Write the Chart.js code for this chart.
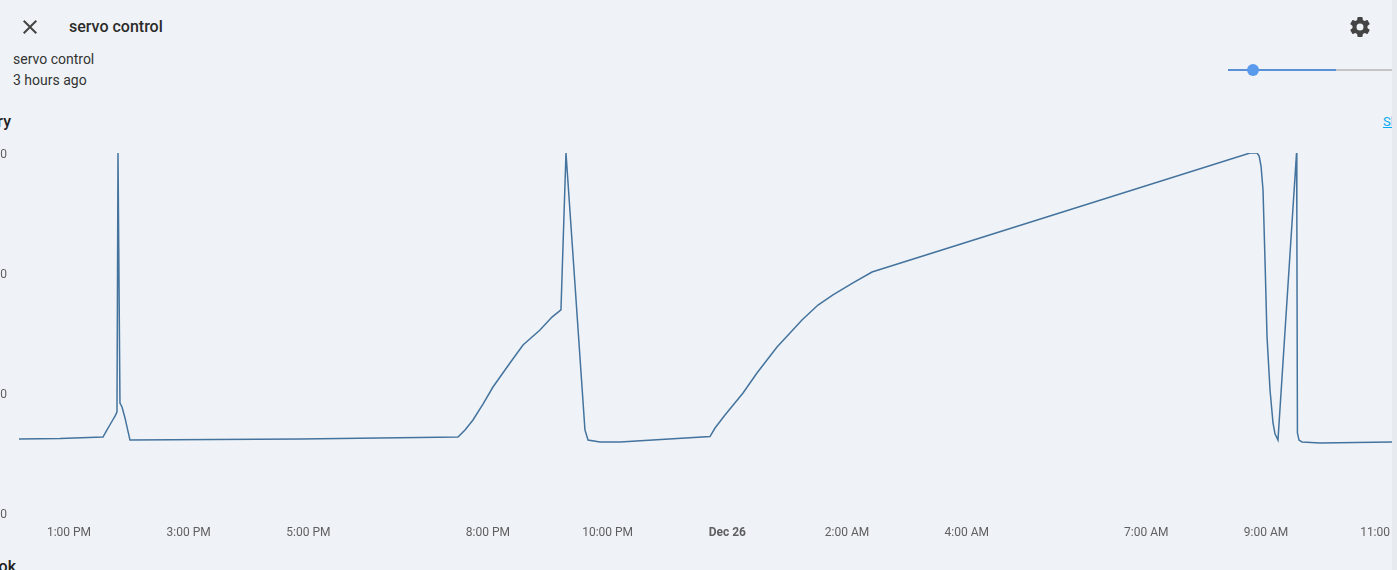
<!DOCTYPE html>
<html>
<head>
<meta charset="utf-8">
<script src="https://cdn.jsdelivr.net/npm/chart.js@4"></script>
<style>
  html, body { margin: 0; padding: 0; }
  body {
    width: 1397px; height: 570px; overflow: hidden; position: relative;
    background: #eff3f7; font-family: Roboto, "Noto Sans", sans-serif; color: #212121;
  }
  .abs { position: absolute; white-space: nowrap; }
  #chartBox { position: absolute; left: -30px; top: 130px; width: 1460px; height: 410px; }
  .strip { position: absolute; left: 1392px; top: 0; width: 5px; height: 570px; background: #e7ebef; }
</style>
</head>
<body>
<svg class="abs" style="left:18px;top:15px" width="24" height="24" viewBox="0 0 24 24">
  <path fill="#444" d="M19,6.41L17.59,5L12,10.59L6.41,5L5,6.41L10.59,12L5,17.59L6.41,19L12,13.41L17.59,19L19,17.59L13.41,12L19,6.41Z"/>
</svg>
<div class="abs" style="left:69px;top:17px;font-size:16px;line-height:20px;font-weight:500;color:#2b2b2b">servo control</div>
<svg class="abs" style="left:1348px;top:15px" width="24" height="24" viewBox="0 0 24 24">
  <path fill="#444" d="M12,15.5A3.5,3.5 0 0,1 8.5,12A3.5,3.5 0 0,1 12,8.5A3.5,3.5 0 0,1 15.5,12A3.5,3.5 0 0,1 12,15.5M19.43,12.97C19.47,12.65 19.5,12.33 19.5,12C19.5,11.67 19.47,11.34 19.43,11L21.54,9.37C21.73,9.22 21.78,8.95 21.66,8.73L19.66,5.27C19.54,5.05 19.27,4.96 19.05,5.05L16.56,6.05C16.04,5.66 15.5,5.32 14.87,5.07L14.5,2.42C14.46,2.18 14.25,2 14,2H10C9.75,2 9.54,2.18 9.5,2.42L9.130,5.07C8.5,5.32 7.960,5.66 7.440,6.05L4.95,5.05C4.73,4.96 4.46,5.05 4.34,5.27L2.34,8.73C2.21,8.95 2.27,9.22 2.46,9.37L4.57,11C4.53,11.34 4.5,11.67 4.5,12C4.5,12.33 4.53,12.65 4.57,12.970L2.46,14.63C2.27,14.78 2.21,15.05 2.34,15.27L4.34,18.73C4.46,18.95 4.73,19.03 4.95,18.95L7.44,17.94C7.96,18.34 8.5,18.68 9.13,18.93L9.5,21.58C9.54,21.82 9.75,22 10,22H14C14.25,22 14.46,21.82 14.5,21.58L14.87,18.93C15.5,18.67 16.04,18.34 16.56,17.94L19.05,18.95C19.27,19.03 19.54,18.95 19.66,18.73L21.66,15.27C21.78,15.050 21.73,14.78 21.54,14.63L19.43,12.97Z"/>
</svg>
<div class="abs" style="left:13px;top:49px;font-size:14px;line-height:20px;color:#333">servo control</div>
<div class="abs" style="left:13px;top:70px;font-size:14px;line-height:20px;color:#333">3 hours ago</div>

<!-- slider -->
<div class="abs" style="left:1228px;top:69px;width:108px;height:2px;background:#5b8fd6"></div>
<div class="abs" style="left:1336px;top:69px;width:56px;height:2px;background:#c4c4c4"></div>
<div class="abs" style="left:1247px;top:64px;width:12px;height:12px;border-radius:6px;background:#5a9aec"></div>

<div class="abs" style="left:-100px;top:112px;width:111px;text-align:right;font-size:16px;line-height:20px;font-weight:500">History</div>
<div class="abs" style="left:1383px;top:113px;font-size:13px;line-height:18px;color:#03a9f4;text-decoration:underline">Show more</div>

<div id="chartBox"><canvas id="historyChart" width="1460" height="410"></canvas></div>

<div class="abs" style="left:-100px;top:557px;width:116px;text-align:right;font-size:16px;line-height:20px;font-weight:500">Logbook</div>
<div class="strip"></div>

<script>
// hours since Dec 25 00:00 (local time)
const times = [
  12.165, 12.85, 13.568, 13.635, 13.702, 13.769, 13.802, 13.819, 13.852, 13.886, 13.936, 14.019,
  16.86, 19.50, 19.617, 19.75, 19.917, 20.084, 20.368, 20.586, 20.87, 21.07, 21.22, 21.304,
  21.621, 21.672, 21.872, 22.206, 23.71, 23.794, 23.961, 24.262, 24.495, 24.83, 25.047,
  25.247, 25.515, 25.765, 26.099, 26.417, 32.733, 32.85, 32.885, 32.917, 32.95, 32.983, 33.017,
  33.067, 33.117, 33.15, 33.2, 33.51, 33.515, 33.525, 33.551, 33.602, 33.902, 35.105
];
const values = [
  6.17, 6.2, 6.33, 6.92, 7.5, 8.08, 8.42, 30, 9.17, 8.83, 7.92, 6.08,
  6.17, 6.33, 6.92, 7.75, 9.08, 10.5, 12.5, 14.0, 15.25, 16.33, 16.92, 30,
  6.92, 6.08, 5.92, 5.92, 6.37, 7.08, 8.17, 10.0, 11.67, 13.83, 15.0,
  16.08, 17.33, 18.17, 19.17, 20.08, 30, 30, 29.75, 28.9, 26.92, 21.08, 14.67,
  10.25, 7.5, 6.6, 6.08, 30, 25.0, 6.67, 6.08, 5.92, 5.83, 5.92
];
const tickHours = [13, 15, 17, 20, 22, 24, 26, 28, 31, 33, 35];
const yTicks = [0, 10, 20, 30];

function hourLabel(h) {
  if (h === 24) return 'Dec 26';
  const hh = h % 24;
  const ampm = hh < 12 ? 'AM' : 'PM';
  const h12 = hh % 12 === 0 ? 12 : hh % 12;
  return h12 + ':00 ' + ampm;
}

const ctx = document.getElementById('historyChart').getContext('2d');
new Chart(ctx, {
  type: 'line',
  data: {
    datasets: [{
      label: 'servo control',
      data: times.map((t, i) => ({ x: t, y: values[i] })),
      borderColor: '#44739e',
      backgroundColor: '#44739e',
      borderWidth: 1.5,
      pointRadius: 0,
      fill: false,
      tension: 0
    }]
  },
  options: {
    responsive: false,
    animation: false,
    layout: { padding: { top: 23, right: 38, left: 0, bottom: 0 } },
    plugins: { legend: { display: false }, tooltip: { enabled: false } },
    scales: {
      x: {
        type: 'linear',
        min: times[0],
        max: times[times.length - 1],
        grid: { display: false },
        border: { display: false },
        afterBuildTicks: (scale) => { scale.ticks = tickHours.map(v => ({ value: v })); },
        afterFit: (scale) => { scale.height = 27; },
        ticks: {
          autoSkip: false,
          maxRotation: 0,
          padding: 5,
          color: '#5f5f5f',
          font: (c) => ({ family: 'Roboto', size: 12, weight: c.tick && c.tick.value === 24 ? 'bold' : 'normal' }),
          callback: (v) => hourLabel(v)
        }
      },
      y: {
        min: 0,
        max: 30,
        grid: { display: false, drawTicks: false },
        border: { display: false },
        afterBuildTicks: (scale) => { scale.ticks = yTicks.map(v => ({ value: v })); },
        afterFit: (scale) => { scale.width = 49; },
        ticks: { padding: 12, labelOffset: 2, color: '#5f5f5f', font: { family: 'Roboto', size: 12 } }
      }
    }
  }
});
</script>
</body>
</html>
